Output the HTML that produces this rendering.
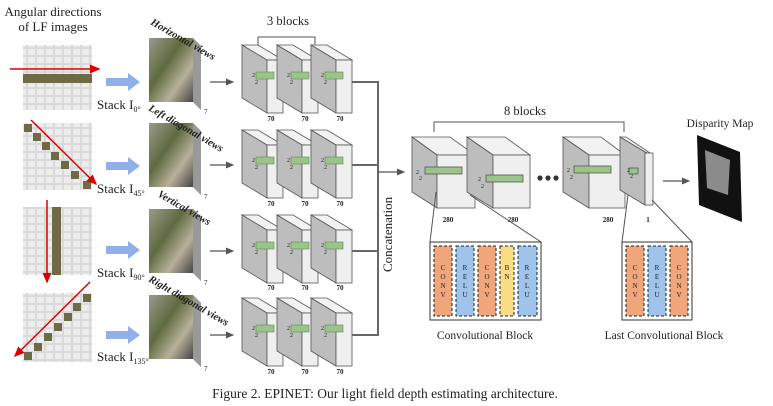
<!DOCTYPE html>
<html><head><meta charset="utf-8"><style>
body{margin:0;background:#fff}
svg{display:block}
text{font-family:"Liberation Serif",serif;fill:#222}
</style></head><body>
<svg width="773" height="406" viewBox="0 0 773 406" xmlns="http://www.w3.org/2000/svg">
<defs>
<pattern id="grid" width="9" height="8" patternUnits="userSpaceOnUse">
<rect width="9" height="8" fill="#d9d9d9"/><rect x="1" y="1" width="7" height="6" fill="#ececec"/>
</pattern>
<linearGradient id="photo" x1="0" y1="0" x2="1" y2="1">
<stop offset="0" stop-color="#9a9a8a"/><stop offset="0.4" stop-color="#5f6a40"/><stop offset="0.7" stop-color="#b8b09a"/><stop offset="1" stop-color="#444"/>
</linearGradient>
<marker id="ar" markerWidth="8" markerHeight="8" refX="6" refY="4" orient="auto"><path d="M0,1 L7,4 L0,7z" fill="#555"/></marker>
<marker id="rr" markerWidth="8" markerHeight="8" refX="6" refY="4" orient="auto"><path d="M0,1 L7,4 L0,7z" fill="#d00"/></marker>
<g id="cube">
<polygon points="0,0 16,0 41,15 25,15" fill="#f2f2f2" stroke="#555" stroke-width="0.8"/>
<polygon points="0,0 25,15 25,68 0,53" fill="#bdbdbd" stroke="#555" stroke-width="0.8"/>
<rect x="25" y="15" width="16" height="53" fill="#efefef" stroke="#555" stroke-width="0.8"/>
<rect x="14" y="27" width="18" height="7" fill="#9cc48a" stroke="#5a8a50" stroke-width="0.6"/>
<text x="10" y="32" font-size="6">2</text><text x="13" y="39" font-size="6">2</text>
</g>
<g id="stk">
<polygon points="0,0 44,0 52,8 52,72 44,64 0,64" fill="#777"/>
<polygon points="44,0 52,8 52,72 44,64" fill="#999"/>
<rect width="44" height="64" fill="url(#photo)"/>
<text x="55" y="76" font-size="7">7</text>
</g>
<g id="blue"><polygon points="0,-4 22,-4 22,-9 34,0 22,9 22,4 0,4" fill="#8fb0e8"/></g>
</defs>

<text x="53" y="16" font-size="13" text-anchor="middle">Angular directions</text>
<text x="53" y="31" font-size="13" text-anchor="middle">of LF images</text>

<rect x="23" y="45" width="69" height="65" fill="url(#grid)"/>
<rect x="23" y="74" width="69" height="9" fill="#6d6a45"/>
<line x1="10" y1="69" x2="99" y2="69" stroke="#d00" stroke-width="1.5" marker-end="url(#rr)"/>
<rect x="23" y="123" width="69" height="67" fill="url(#grid)"/>
<g fill="#6d6a45"><rect x="24" y="124" width="8" height="8"/><rect x="33" y="133" width="8" height="8"/><rect x="42" y="142" width="8" height="8"/><rect x="51" y="152" width="8" height="8"/><rect x="61" y="161" width="8" height="8"/><rect x="71" y="171" width="8" height="8"/><rect x="83" y="181" width="8" height="8"/></g>
<line x1="31" y1="120" x2="96" y2="184" stroke="#d00" stroke-width="1.5" marker-end="url(#rr)"/>
<rect x="23" y="207" width="69" height="68" fill="url(#grid)"/>
<rect x="52" y="207" width="9" height="68" fill="#6d6a45"/>
<line x1="47" y1="200" x2="47" y2="282" stroke="#d00" stroke-width="1.5" marker-end="url(#rr)"/>
<rect x="23" y="293" width="69" height="69" fill="url(#grid)"/>
<g fill="#6d6a45"><rect x="83" y="294" width="8" height="8"/><rect x="73" y="303" width="8" height="8"/><rect x="64" y="313" width="8" height="8"/><rect x="54" y="323" width="8" height="8"/><rect x="44" y="333" width="8" height="8"/><rect x="34" y="343" width="8" height="8"/><rect x="24" y="352" width="8" height="8"/></g>
<line x1="90" y1="282" x2="15" y2="356" stroke="#d00" stroke-width="1.5" marker-end="url(#rr)"/>

<use href="#blue" x="106" y="82"/><use href="#blue" x="106" y="166"/><use href="#blue" x="106" y="250"/><use href="#blue" x="106" y="335"/>
<text x="97" y="109" font-size="13">Stack I<tspan font-size="8" dy="3">0°</tspan></text>
<text x="97" y="193" font-size="13">Stack I<tspan font-size="8" dy="3">45°</tspan></text>
<text x="97" y="277" font-size="13">Stack I<tspan font-size="8" dy="3">90°</tspan></text>
<text x="97" y="361" font-size="13">Stack I<tspan font-size="8" dy="3">135°</tspan></text>

<use href="#stk" x="149" y="38"/><use href="#stk" x="149" y="123"/><use href="#stk" x="149" y="209"/><use href="#stk" x="149" y="295"/>
<g font-size="10.5" font-weight="bold" font-style="italic">
<text transform="translate(150,24) rotate(30)">Horizontal views</text>
<text transform="translate(148,110) rotate(30)">Left diagonal views</text>
<text transform="translate(157,196) rotate(30)">Vertical views</text>
<text transform="translate(148,281) rotate(30)">Right diagonal views</text>
</g>

<g stroke="#555" stroke-width="1.2" marker-end="url(#ar)">
<line x1="210" y1="82" x2="233" y2="82"/><line x1="210" y1="165" x2="233" y2="165"/><line x1="210" y1="251" x2="233" y2="251"/><line x1="210" y1="335" x2="233" y2="335"/>
</g>

<text x="288" y="25" font-size="12.5" text-anchor="middle">3 blocks</text>
<path d="M258,46 V37 H315 V46" fill="none" stroke="#555"/>
<g>
<use href="#cube" x="242" y="45"/><use href="#cube" x="277" y="45"/><use href="#cube" x="311" y="45"/>
<use href="#cube" x="242" y="130"/><use href="#cube" x="277" y="130"/><use href="#cube" x="311" y="130"/>
<use href="#cube" x="242" y="215"/><use href="#cube" x="277" y="215"/><use href="#cube" x="311" y="215"/>
<use href="#cube" x="242" y="298"/><use href="#cube" x="277" y="298"/><use href="#cube" x="311" y="298"/>
</g>
<g font-size="7" font-weight="bold" text-anchor="middle">
<text x="271" y="121">70</text><text x="305" y="121">70</text><text x="340" y="121">70</text>
<text x="271" y="206">70</text><text x="305" y="206">70</text><text x="340" y="206">70</text>
<text x="271" y="290">70</text><text x="305" y="290">70</text><text x="340" y="290">70</text>
<text x="271" y="374">70</text><text x="305" y="374">70</text><text x="340" y="374">70</text>
</g>
<g stroke="#666" stroke-width="2" fill="none">
<path d="M352,82 H378 V335 H352"/><path d="M352,165 H378"/><path d="M352,251 H378"/>
</g>
<text transform="translate(392,272) rotate(-90)" font-size="13">Concatenation</text>
<line x1="378" y1="172" x2="404" y2="172" stroke="#555" stroke-width="1.2" marker-end="url(#ar)"/>

<text x="525" y="115" font-size="12.5" text-anchor="middle">8 blocks</text>
<path d="M434,132 V122 H624 V132" fill="none" stroke="#555"/>
<g stroke="#555" stroke-width="0.8">
<polygon points="412,137 450,137 475,155 437,155" fill="#f2f2f2"/>
<polygon points="412,137 437,155 437,208 412,192" fill="#bdbdbd"/>
<rect x="437" y="155" width="38" height="53" fill="#efefef"/>
<rect x="425" y="167" width="37" height="7" fill="#9cc48a"/>
<polygon points="467,137 505,137 530,155 493,155" fill="#f2f2f2"/>
<polygon points="467,137 493,155 493,208 467,192" fill="#bdbdbd"/>
<rect x="493" y="155" width="37" height="53" fill="#efefef"/>
<rect x="486" y="175" width="37" height="7" fill="#9cc48a"/>
<polygon points="563,137 601,137 625,155 589,155" fill="#f2f2f2"/>
<polygon points="563,137 589,155 589,208 563,192" fill="#bdbdbd"/>
<rect x="589" y="155" width="36" height="53" fill="#efefef"/>
<rect x="574" y="166" width="37" height="7" fill="#9cc48a"/>
<polygon points="620,137 626,137 653,155 645,152" fill="#f2f2f2"/>
<polygon points="620,137 645,152 645,205 620,190" fill="#bdbdbd"/>
<rect x="645" y="153" width="8" height="52" fill="#efefef"/>
<rect x="629" y="168" width="9" height="6" fill="#9cc48a"/>
</g>
<g font-size="6"><text x="416" y="174">2</text><text x="419" y="180">2</text><text x="478" y="181">2</text><text x="481" y="188">2</text><text x="567" y="172">2</text><text x="570" y="179">2</text><text x="627" y="172">2</text><text x="630" y="178">2</text></g>
<g fill="#333"><circle cx="540" cy="178" r="2.6"/><circle cx="548" cy="178" r="2.6"/><circle cx="556" cy="178" r="2.6"/></g>
<g font-size="7" font-weight="bold" text-anchor="middle"><text x="448" y="222">280</text><text x="513" y="222">280</text><text x="608" y="222">280</text><text x="648" y="222">1</text></g>
<line x1="663" y1="181" x2="689" y2="181" stroke="#555" stroke-width="1.2" marker-end="url(#ar)"/>
<text x="720" y="127" font-size="11.5" text-anchor="middle">Disparity Map</text>
<polygon points="697,135 740,152 742,222 699,205" fill="#111"/>
<polygon points="705,150 730,160 728,195 707,188" fill="#aaa" opacity="0.8"/>

<g stroke="#555" stroke-width="1"><line x1="436" y1="192" x2="430" y2="242"/><line x1="470" y1="195" x2="541" y2="242"/><line x1="628" y1="195" x2="622" y2="242"/><line x1="652" y1="200" x2="692" y2="242"/></g>

<rect x="430" y="242" width="111" height="78" fill="#fff" stroke="#333" stroke-width="1"/>
<rect x="622" y="242" width="70" height="78" fill="#fff" stroke="#333" stroke-width="1"/>
<g stroke="#222" stroke-dasharray="3,2" stroke-width="1">
<rect x="434" y="246" width="18" height="70" fill="#f0a67a"/>
<rect x="456" y="246" width="18" height="70" fill="#9fc3ea"/>
<rect x="478" y="246" width="18" height="70" fill="#f0a67a"/>
<rect x="500" y="246" width="14" height="70" fill="#f8dc86"/>
<rect x="518" y="246" width="19" height="70" fill="#9fc3ea"/>
<rect x="626" y="246" width="18" height="70" fill="#f0a67a"/>
<rect x="648" y="246" width="18" height="70" fill="#9fc3ea"/>
<rect x="670" y="246" width="18" height="70" fill="#f0a67a"/>
</g>
<g font-size="7" text-anchor="middle" font-family="Liberation Mono,monospace">
<text x="443" y="270">C</text><text x="443" y="279">O</text><text x="443" y="288">N</text><text x="443" y="297">V</text>
<text x="465" y="270">R</text><text x="465" y="279">E</text><text x="465" y="288">L</text><text x="465" y="297">U</text>
<text x="487" y="270">C</text><text x="487" y="279">O</text><text x="487" y="288">N</text><text x="487" y="297">V</text>
<text x="507" y="270">B</text><text x="507" y="279">N</text>
<text x="527" y="270">R</text><text x="527" y="279">E</text><text x="527" y="288">L</text><text x="527" y="297">U</text>
<text x="635" y="270">C</text><text x="635" y="279">O</text><text x="635" y="288">N</text><text x="635" y="297">V</text>
<text x="657" y="270">R</text><text x="657" y="279">E</text><text x="657" y="288">L</text><text x="657" y="297">U</text>
<text x="679" y="270">C</text><text x="679" y="279">O</text><text x="679" y="288">N</text><text x="679" y="297">V</text>
</g>
<text x="485" y="339" font-size="11.5" text-anchor="middle">Convolutional Block</text>
<text x="664" y="339" font-size="11.5" text-anchor="middle">Last Convolutional Block</text>

<text x="385" y="398" font-size="13.5" text-anchor="middle">Figure 2. EPINET: Our light field depth estimating architecture.</text>
</svg>
</body></html>
